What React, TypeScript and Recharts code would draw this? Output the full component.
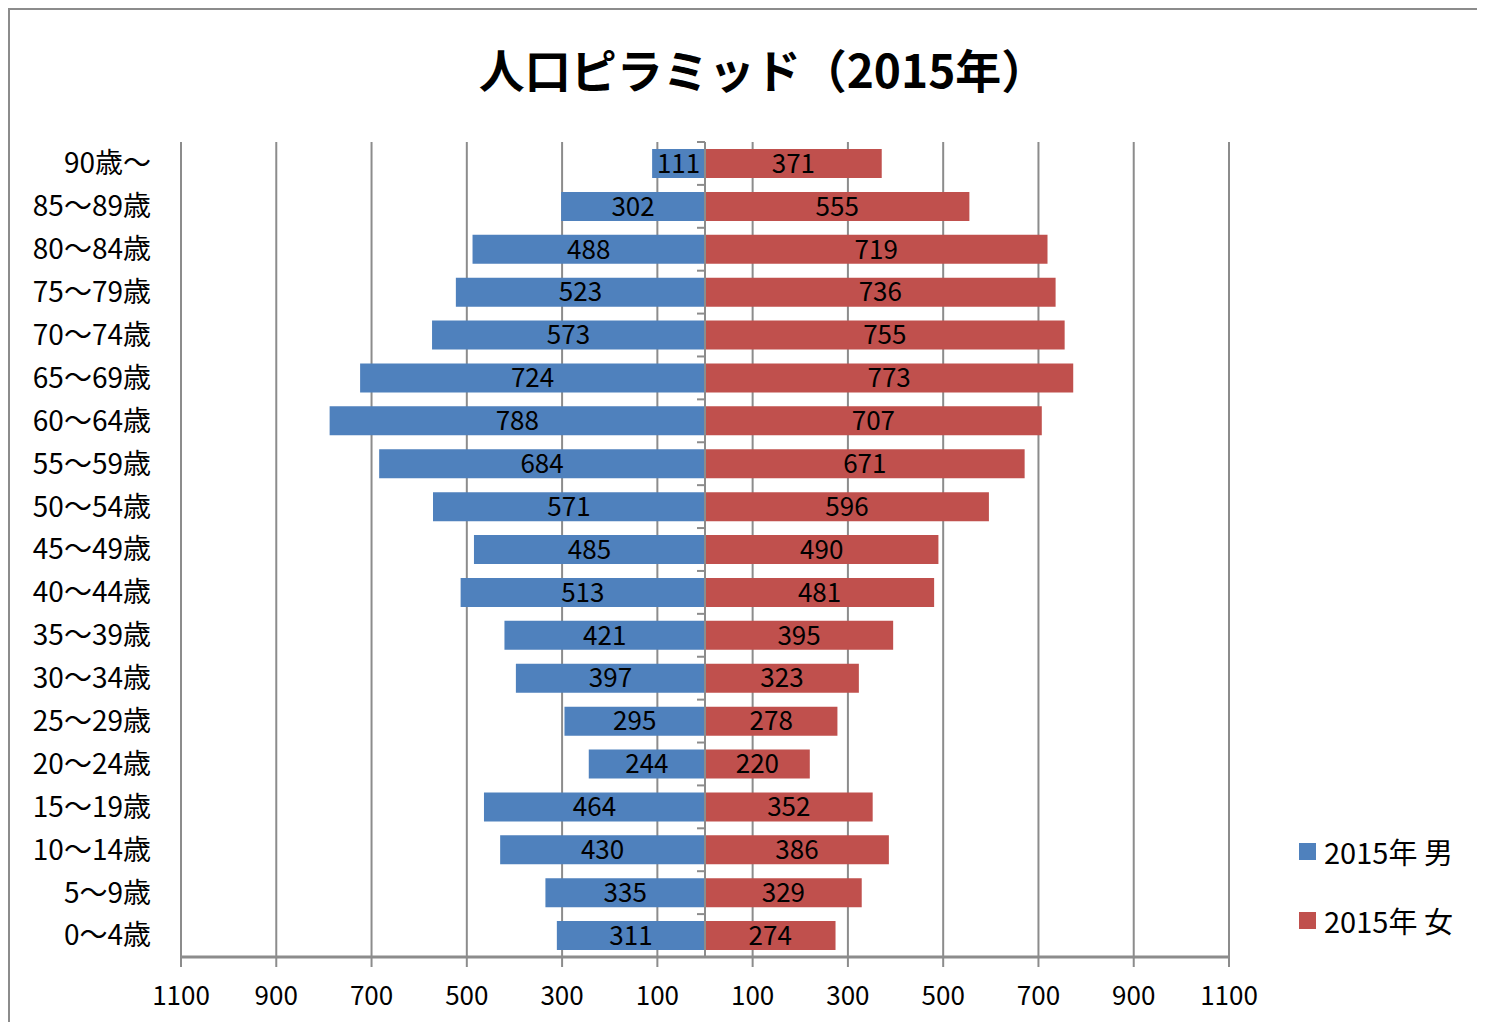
import {
  BarChart,
  Bar,
  XAxis,
  YAxis,
  CartesianGrid,
  ReferenceLine,
  LabelList,
} from "recharts";

const AGE_GROUPS = [
  "90歳～", "85～89歳", "80～84歳", "75～79歳", "70～74歳",
  "65～69歳", "60～64歳", "55～59歳", "50～54歳", "45～49歳",
  "40～44歳", "35～39歳", "30～34歳", "25～29歳", "20～24歳",
  "15～19歳", "10～14歳", "5～9歳", "0～4歳",
];

const MALE = [
  111, 302, 488, 523, 573, 724, 788, 684, 571, 485,
  513, 421, 397, 295, 244, 464, 430, 335, 311,
];

const FEMALE = [
  371, 555, 719, 736, 755, 773, 707, 671, 596, 490,
  481, 395, 323, 278, 220, 352, 386, 329, 274,
];

const X_TICKS = [-1100, -900, -700, -500, -300, -100, 100, 300, 500, 700, 900, 1100];

const BLUE = "#4F81BD";
const RED = "#C0504D";
const GRAY = "#8c8c8c";
const FONT = "'Noto Sans CJK JP', 'Noto Sans', sans-serif";

const chartData = AGE_GROUPS.map((age, i) => ({
  age,
  male: -MALE[i],
  female: FEMALE[i],
}));

// category axis drawn at x = 0, with little ticks at row boundaries
const CenterAxis = (props: any) => {
  const { x1, y1, y2 } = props;
  const top = Math.min(y1, y2);
  const bottom = Math.max(y1, y2);
  const step = (bottom - top) / AGE_GROUPS.length;
  return (
    <g>
      <line x1={x1} y1={top} x2={x1} y2={bottom} stroke={GRAY} strokeWidth={2} />
      {AGE_GROUPS.map((_, i) => (
        <line
          key={i}
          x1={x1 - 8}
          x2={x1}
          y1={top + i * step}
          y2={top + i * step}
          stroke={GRAY}
          strokeWidth={2}
        />
      ))}
    </g>
  );
};

export default function App() {
  return (
    <div
      style={{
        position: "relative",
        width: 1467,
        height: 1012,
        borderLeft: `2px solid ${GRAY}`,
        borderTop: `2px solid ${GRAY}`,
        fontFamily: FONT,
        background: "#fff",
      }}
    >
      <div
        style={{
          position: "absolute",
          left: 353,
          top: 35,
          width: 800,
          textAlign: "center",
          fontSize: 46,
          fontWeight: "bold",
          lineHeight: 1,
          color: "#000",
        }}
      >
        人口ピラミッド（2015年）
      </div>

      <BarChart
        width={1467}
        height={1012}
        data={chartData}
        layout="vertical"
        stackOffset="sign"
        barSize={29}
        margin={{ top: 132, right: 248, bottom: 5, left: 11 }}
      >
        <CartesianGrid horizontal={false} stroke={GRAY} strokeWidth={2} />
        <XAxis
          type="number"
          domain={[-1100, 1100]}
          ticks={X_TICKS}
          interval={0}
          height={60}
          tickFormatter={(v: number) => String(Math.abs(v))}
          tick={{ fill: "#000", fontSize: 26, fontFamily: FONT }}
          axisLine={{ stroke: GRAY, strokeWidth: 3 }}
          tickLine={{ stroke: GRAY, strokeWidth: 2 }}
          tickSize={10}
          tickMargin={20}
        />
        <YAxis
          type="category"
          dataKey="age"
          width={160}
          interval={0}
          axisLine={false}
          tickLine={false}
          tickSize={6}
          tickMargin={24}
          tick={{ fill: "#000", fontSize: 28, fontFamily: FONT }}
        />
        <Bar dataKey="male" stackId="a" fill={BLUE} isAnimationActive={false}>
          <LabelList
            dataKey="male"
            position="center"
            formatter={(v: any) => String(Math.abs(Number(v)))}
            fill="#000"
            fontSize={26}
            fontFamily={FONT}
          />
        </Bar>
        <Bar dataKey="female" stackId="a" fill={RED} isAnimationActive={false}>
          <LabelList
            dataKey="female"
            position="center"
            fill="#000"
            fontSize={26}
            fontFamily={FONT}
          />
        </Bar>
        <ReferenceLine x={0} shape={CenterAxis} />
      </BarChart>

      <div
        style={{
          position: "absolute",
          left: 1289,
          top: 807,
          fontSize: 29,
          color: "#000",
          lineHeight: "69px",
        }}
      >
        {[
          { name: "2015年 男", color: BLUE },
          { name: "2015年 女", color: RED },
        ].map((item) => (
          <div key={item.name} style={{ display: "flex", alignItems: "center" }}>
            <span
              style={{
                display: "inline-block",
                width: 17,
                height: 17,
                background: item.color,
                marginRight: 8,
              }}
            />
            <span>{item.name}</span>
          </div>
        ))}
      </div>
    </div>
  );
}
